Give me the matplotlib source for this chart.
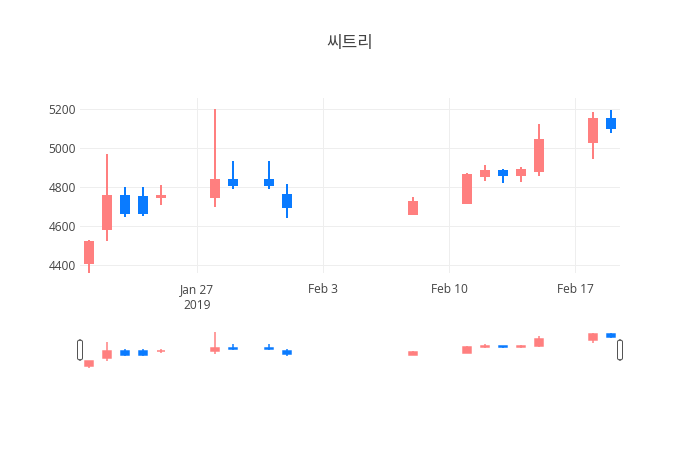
"""
plot.py -- candlestick chart with a range-slider strip underneath
"""

import datetime as dt

import matplotlib
matplotlib.use("Agg")
import matplotlib.pyplot as plt
import matplotlib.dates as mdates
from matplotlib.patches import FancyBboxPatch

plt.rcParams["font.family"] = ["Open Sans", "Noto Sans CJK KR", "DejaVu Sans"]

TITLE = "씨트리"

dates = [
    "2019-01-21", "2019-01-22", "2019-01-23", "2019-01-24", "2019-01-25",
    "2019-01-28", "2019-01-29", "2019-01-31", "2019-02-01",
    "2019-02-08", "2019-02-11", "2019-02-12", "2019-02-13", "2019-02-14",
    "2019-02-15", "2019-02-18", "2019-02-19",
]
opens  = [4410, 4585, 4755, 4750, 4750, 4750, 4835, 4835, 4760,
          4660, 4720, 4855, 4880, 4860, 4880, 5030, 5150]
highs  = [4530, 4970, 4800, 4800, 4810, 5200, 4935, 4935, 4815,
          4750, 4870, 4915, 4890, 4900, 5125, 5185, 5195]
lows   = [4360, 4525, 4645, 4650, 4710, 4695, 4790, 4790, 4640,
          4660, 4720, 4830, 4820, 4825, 4855, 4945, 5075]
closes = [4520, 4755, 4665, 4665, 4755, 4835, 4810, 4810, 4695,
          4725, 4860, 4880, 4860, 4885, 5040, 5150, 5100]

y_ticks = [4400, 4600, 4800, 5000, 5200]
x_ticks = ["2019-01-27", "2019-02-03", "2019-02-10", "2019-02-17"]
x_tick_labels = ["Jan 27\n2019", "Feb 3", "Feb 10", "Feb 17"]

INC_COLOR = "#FF7F7F"
DEC_COLOR = "#0A7BFF"
TEXT_COLOR = "#444444"
GRID_COLOR = "#EEEEEE"

W, H = 700, 450
PX = 72 / 100  # points per pixel at dpi=100


def to_num(s):
    return mdates.date2num(dt.datetime.strptime(s, "%Y-%m-%d"))


def draw_candles(ax, xs, lw_px):
    for x, o, h, l, c in zip(xs, opens, highs, lows, closes):
        col = INC_COLOR if c >= o else DEC_COLOR
        ax.vlines(x, l, h, color=col, lw=lw_px * PX, zorder=3)
        ax.bar(x, c - o, bottom=o, width=0.45, color=col, edgecolor=col,
               lw=lw_px * PX, zorder=4)


def fig_axes(fig, left, top, right, bottom):
    # pixel box -> figure fraction
    return fig.add_axes([left / W, 1 - bottom / H, (right - left) / W, (bottom - top) / H])


fig = plt.figure(figsize=(W / 100, H / 100), dpi=100)

xs = [to_num(d) for d in dates]
x_lo = to_num("2019-01-20") + 0.5
x_hi = to_num("2019-02-19") + 0.5
y_lo, y_hi = 4359, 5256

# main panel
ax = fig_axes(fig, 80, 98, 620, 273)
draw_candles(ax, xs, 2)
ax.set_xlim(x_lo, x_hi)
ax.set_ylim(y_lo, y_hi)
ax.set_yticks(y_ticks)
ax.set_yticklabels([str(v) for v in y_ticks])
ax.set_xticks([to_num(d) for d in x_ticks])
ax.set_xticklabels(x_tick_labels)
ax.grid(True, color=GRID_COLOR, lw=1 * PX, zorder=0)
ax.set_axisbelow(True)
for sp in ax.spines.values():
    sp.set_visible(False)
ax.tick_params(length=0, labelsize=12 * PX, colors=TEXT_COLOR)
ax.tick_params(axis="y", pad=3)
ax.tick_params(axis="x", pad=7)
for lab in ax.get_xticklabels():
    lab.set_linespacing(1.3)

# range slider strip
rs = fig_axes(fig, 80, 330, 620, 368)
draw_candles(rs, xs, 1.5)
rs.set_xlim(x_lo, x_hi)
rs.set_ylim(y_lo, y_hi)
rs.set_xticks([])
rs.set_yticks([])
for sp in rs.spines.values():
    sp.set_visible(False)

# slider handles
for hx in (80, 620):
    handle = FancyBboxPatch(((hx - 2.5) / W, 1 - 360 / H), 5 / W, 20 / H,
                            boxstyle="round,pad=0,rounding_size=0.004",
                            transform=fig.transFigure, facecolor="white",
                            edgecolor="#555555", lw=1 * PX, zorder=10)
    fig.patches.append(handle)

fig.text(0.5, 1 - 44 / H, TITLE, ha="center", va="center",
         fontsize=17 * PX, color=TEXT_COLOR)

fig.savefig("out.png", dpi=100)
plt.close(fig)
